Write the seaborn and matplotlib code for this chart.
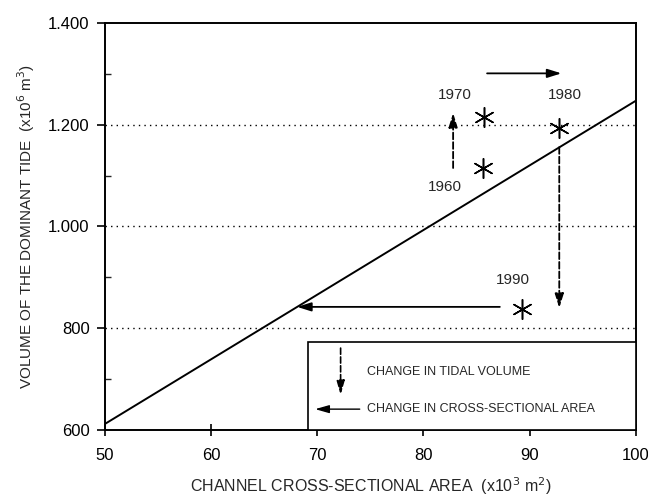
import matplotlib
matplotlib.use("Agg")
import matplotlib.pyplot as plt
import seaborn as sns
import pandas as pd
from matplotlib.patches import Rectangle
from matplotlib.ticker import MultipleLocator, FuncFormatter

# ---------------------------------------------------------------
# data
# ---------------------------------------------------------------
years = ["1960", "1970", "1980", "1990"]
area = [85.6, 85.7, 92.8, 89.3]          # x10^3 m2
volume = [1115, 1215, 1193, 838]         # x10^6 m3

# equilibrium line (end points)
line_area = [50, 100]
line_volume = [612, 1247]

# year label positions
label_x = [82.0, 83.0, 93.3, 88.4]
label_y = [1077, 1258, 1258, 895]

# change arrows: (x_start, y_start, x_end, y_end, style)
arrows = [
    (82.8, 1115, 82.8, 1223, "dashed"),   # 1960 -> 1970 tidal volume up
    (86.0, 1301, 93.0, 1301, "solid"),    # 1970 -> 1980 area growth
    (92.8, 1156, 92.8, 840, "dashed"),    # 1980 -> 1990 tidal volume down
    (87.2, 842, 68.1, 842, "solid"),      # 1990 area reduction
]

grid_levels = [800, 1000, 1200]

sns.set_theme(style="white")
plt.rcParams["font.family"] = ["Liberation Sans", "DejaVu Sans"]

fig = plt.figure(figsize=(6.48, 5.0), dpi=100)
ax = fig.add_axes([0.162, 0.14, 0.819, 0.814])

for g in grid_levels:
    ax.axhline(g, color="black", linestyle=(0, (1, 3)), linewidth=1.0, zorder=1)

sns.lineplot(x=line_area, y=line_volume, color="black", linewidth=1.4, ax=ax, zorder=2)

df = pd.DataFrame({"year": years, "area": area, "volume": volume})
sns.scatterplot(data=df, x="area", y="volume", marker=(6, 2, 0), s=200,
                color="black", linewidth=1.1, ax=ax, zorder=3)

for yr, lx, ly in zip(years, label_x, label_y):
    ax.text(lx, ly, yr, fontsize=11, ha="center", va="center")

for x0, y0, x1, y1, ls in arrows:
    ax.annotate("", xy=(x1, y1), xytext=(x0, y0),
                arrowprops=dict(arrowstyle="-|>,head_length=0.7,head_width=0.22",
                                color="black", linewidth=1.3,
                                linestyle="--" if ls == "dashed" else "-",
                                shrinkA=0, shrinkB=0))

# legend box
ax.add_patch(Rectangle((69.1, 600), 30.9, 173, fill=True, facecolor="white",
                       edgecolor="black", linewidth=1.2, zorder=4))
ax.annotate("", xy=(72.2, 669), xytext=(72.2, 761),
            arrowprops=dict(arrowstyle="-|>,head_length=0.7,head_width=0.2",
                            color="black", linewidth=1.2, linestyle="--",
                            shrinkA=0, shrinkB=0), zorder=5)
ax.annotate("", xy=(69.8, 641), xytext=(74.0, 641),
            arrowprops=dict(arrowstyle="-|>,head_length=0.7,head_width=0.2",
                            color="black", linewidth=1.0,
                            shrinkA=0, shrinkB=0), zorder=5)
ax.text(74.7, 714, "CHANGE IN TIDAL VOLUME", fontsize=9, va="center", zorder=5)
ax.text(74.7, 641, "CHANGE IN CROSS-SECTIONAL AREA", fontsize=9, va="center", zorder=5)

ax.set_xlim(50, 100)
ax.set_ylim(600, 1400)
ax.xaxis.set_major_locator(MultipleLocator(10))
ax.yaxis.set_major_locator(MultipleLocator(200))
ax.yaxis.set_minor_locator(MultipleLocator(100))
ax.yaxis.set_major_formatter(FuncFormatter(lambda v, p: f"{int(v):,}".replace(",", ".")))

ax.tick_params(axis="x", which="major", direction="inout", length=8, width=1.2,
               bottom=True, labelsize=12, pad=9, colors="black")
ax.tick_params(axis="y", which="major", direction="out", length=6, width=1.2,
               left=True, labelsize=12, pad=5, colors="black")
ax.tick_params(axis="y", which="minor", direction="in", length=4, width=1.0, left=True)

for sp in ax.spines.values():
    sp.set_color("black")
    sp.set_linewidth(1.4)

ax.set_xlabel(r"CHANNEL CROSS-SECTIONAL AREA  (x10$^3$ m$^2$)", fontsize=11.5, labelpad=9)
ax.set_ylabel(r"VOLUME OF THE DOMINANT TIDE  (x10$^6$ m$^3$)", fontsize=11, labelpad=8)

plt.savefig("out.png", dpi=100)
